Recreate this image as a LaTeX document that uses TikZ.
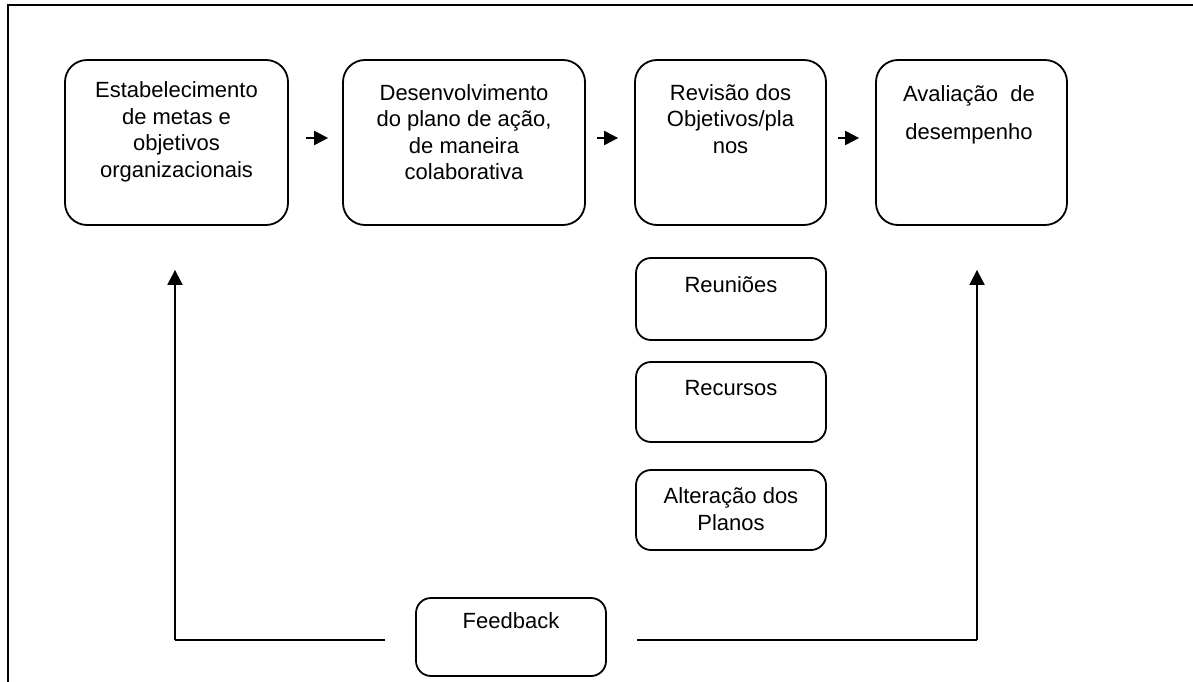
\documentclass[tikz,border=0pt]{standalone}
\usepackage{fontspec}
\setmainfont{Liberation Sans}
\usetikzlibrary{arrows.meta,calc}
\begin{document}
\begin{tikzpicture}[x=1pt,y=-1pt,
  box/.style={draw,line width=1.8pt,rounded corners=22pt,inner sep=0pt},
  sbox/.style={draw,line width=1.8pt,rounded corners=15pt,inner sep=0pt},
  txt/.style={font=\fontsize{22}{26.5}\selectfont,align=center,inner sep=0pt},
  arr/.style={line width=2.2pt,-{Triangle[length=14pt,width=14pt]}},
  varr/.style={line width=1.8pt,-{Triangle[length=15pt,width=15pt]}},
  ln/.style={line width=1.8pt}]
\useasboundingbox (0,0) rectangle (1193,682);
\draw[line width=2.8pt] (8,700) -- (8,5) -- (1200,5);
% main boxes
\node[box,minimum width=223pt,minimum height=165pt] (b1) at (176.5,142.5) {};
\node[box,minimum width=242pt,minimum height=165pt] (b2) at (464,142.5) {};
\node[box,minimum width=191pt,minimum height=165pt] (b3) at (730.5,142.5) {};
\node[box,minimum width=191pt,minimum height=165pt] (b4) at (971.5,142.5) {};
\node[txt] (t1) at (176.5,132) {Estabelecimento\\de metas e\\objetivos\\organizacionais};
\node[txt] (t2) at (464,132) {Desenvolvimento\\do plano de ação,\\de maneira\\colaborativa};
\node[txt] (t3) at (730.5,119) {Revisão dos\\Objetivos/pla\\nos};
\node[txt,font=\fontsize{22}{38}\selectfont] (t4) at (969,115) {Avaliação~ de\\desempenho};
% small boxes
\node[sbox,minimum width=190pt,minimum height=82pt] (r1) at (731,299) {};
\node[sbox,minimum width=190pt,minimum height=80pt] (r2) at (731,402) {};
\node[sbox,minimum width=190pt,minimum height=80pt] (r3) at (731,510) {};
\node[txt] (s1) at (731,285) {Reuniões};
\node[txt] (s2) at (731,388) {Recursos};
\node[txt] (s3) at (731,509) {Alteração dos\\Planos};
\node[sbox,minimum width=190pt,minimum height=78pt] (fb) at (511,637) {};
\node[txt] (sf) at (511,621) {Feedback};
% arrows
\draw[arr,shorten <=17pt,shorten >=14pt] ([yshift=4.5pt]b1.east) -- ([yshift=4.5pt]b2.west);
\draw[arr,shorten <=11pt,shorten >=16pt] ([yshift=4.5pt]b2.east) -- ([yshift=4.5pt]b3.west);
\draw[arr,shorten <=11pt,shorten >=16pt] ([yshift=4.5pt]b3.east) -- ([yshift=4.5pt]b4.west);
% feedback
\draw[ln,shorten <=30pt] ([yshift=-3pt]fb.west) -- ([yshift=-3pt]fb.west -| 175,0) coordinate (fl);
\draw[varr,shorten >=44pt] (fl) -- (fl |- b1.south);
\draw[ln,shorten <=30pt] ([yshift=-3pt]fb.east) -- ([yshift=-3pt]fb.east -| 977,0) coordinate (fr);
\draw[varr,shorten >=44pt] (fr) -- (fr |- b4.south);
\end{tikzpicture}
\end{document}
